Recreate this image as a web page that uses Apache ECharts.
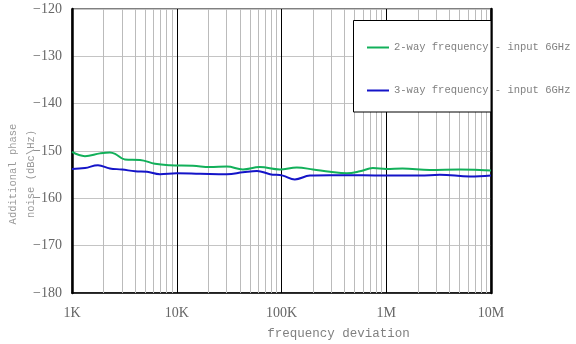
<!DOCTYPE html>
<html>
<head>
<meta charset="utf-8">
<script src="https://cdn.jsdelivr.net/npm/echarts@6/dist/echarts.min.js"></script>
<style>
  html, body { margin: 0; padding: 0; background: #fff; }
  #phaseChart { width: 576px; height: 344px; }
</style>
</head>
<body>
<div id="phaseChart"></div>
<script>
// frequency offsets (Hz) and additional phase noise (dBc/Hz)
const greenFreq = [1000, 1330, 1850, 2300, 2580, 3200, 4460, 6200, 8600, 14300, 20700, 30100, 42800, 62000, 96500, 140000, 200000, 290000, 420000, 560000, 745000, 1000000, 1430000, 2600000, 5000000, 7800000, 10000000];
const greenVal  = [-150.2, -151.1, -150.5, -150.3, -150.6, -151.8, -151.9, -152.7, -153.0, -153.1, -153.4, -153.3, -153.9, -153.4, -153.9, -153.5, -153.9, -154.4, -154.7, -154.3, -153.6, -153.8, -153.7, -154.0, -153.9, -154.0, -154.1];

const blueFreq = [1000, 1330, 1770, 2300, 3000, 4000, 5200, 6900, 10000, 16700, 30100, 42800, 58400, 77700, 103000, 134000, 187000, 290000, 600000, 1000000, 2100000, 3250000, 6300000, 10000000];
const blueVal  = [-153.8, -153.6, -153.0, -153.7, -153.9, -154.3, -154.4, -154.9, -154.7, -154.8, -154.9, -154.5, -154.2, -154.9, -155.2, -156.0, -155.2, -155.1, -155.1, -155.2, -155.2, -155.0, -155.4, -155.2];

const seriesNames = ['2-way frequency - input 6GHz', '3-way frequency - input 6GHz'];
const xTickLabels = {1000: '1K', 10000: '10K', 100000: '100K', 1000000: '1M', 10000000: '10M'};
const decades = [1000, 10000, 100000, 1000000];
const minorSteps = [2, 3, 4, 5, 6, 7, 8, 9];

const zip = (xs, ys) => xs.map((x, i) => [x, ys[i]]);

// minor log grid lines, placed through the axis scale
const minorLines = [];
decades.forEach(d => minorSteps.forEach(m => minorLines.push({xAxis: d * m})));

let myChart = echarts.init(document.getElementById('phaseChart'));
let option = {
  animation: false,
  backgroundColor: '#fff',
  grid: {
    left: 72, right: 85, top: 9, bottom: 51,
    outerBoundsMode: 'none',
    show: true, borderColor: '#000', borderWidth: 1
  },
  legend: {
    orient: 'vertical',
    left: 362,
    top: 37,
    itemGap: 32,
    itemWidth: 22,
    itemHeight: 2,
    icon: 'rect',
    z: 10,
    textStyle: {fontFamily: 'Liberation Mono', fontSize: 10.5, color: '#808080'},
    data: seriesNames
  },
  graphic: [{
    type: 'rect',
    z: 5,
    shape: {x: 353.5, y: 20.5, width: 137.5, height: 91.5},
    style: {fill: '#fff', stroke: '#000', lineWidth: 1}
  }],
  xAxis: {
    type: 'log',
    logBase: 10,
    min: 1000,
    max: 10000000,
    name: 'frequency deviation',
    nameLocation: 'middle',
    nameGap: 34,
    nameMoveOverlap: false,
    nameTextStyle: {fontFamily: 'Liberation Mono', fontSize: 12.5, color: '#808080', padding: [0, 0, 0, 114]},
    axisLine: {lineStyle: {color: '#000', width: 1.5}},
    axisTick: {show: false},
    axisLabel: {
      margin: 13,
      fontFamily: 'Liberation Serif',
      fontSize: 14,
      color: '#666',
      formatter: v => xTickLabels[Math.round(v)] || ''
    },
    splitLine: {show: true, lineStyle: {color: '#000', width: 1}}
  },
  yAxis: [{
    type: 'value',
    min: -180,
    max: -120,
    interval: 10,
    name: 'Additional phase\nnoise (dBc\\Hz)',
    nameLocation: 'middle',
    nameRotate: 90,
    nameGap: 32,
    nameMoveOverlap: false,
    nameTextStyle: {fontFamily: 'Liberation Mono', fontSize: 10.5, color: '#999', lineHeight: 18, padding: [0, 46, 0, 0]},
    axisLine: {show: true, lineStyle: {color: '#000', width: 2.5}},
    axisTick: {show: false},
    axisLabel: {
      margin: 10,
      fontFamily: 'Liberation Serif',
      fontSize: 14,
      color: '#666',
      formatter: v => String(v).replace('-', '\u2212')
    },
    splitLine: {show: true, lineStyle: {color: '#c4c4c4', width: 1}}
  }, {
    type: 'value',
    position: 'right',
    min: -180,
    max: -120,
    interval: 10,
    axisLine: {show: true, lineStyle: {color: '#000', width: 2.5}},
    axisTick: {show: false},
    axisLabel: {show: false},
    splitLine: {show: false}
  }],
  series: [{
    name: seriesNames[0],
    type: 'line',
    smooth: 0.4,
    showSymbol: false,
    data: zip(greenFreq, greenVal),
    lineStyle: {color: '#12b05a', width: 2},
    itemStyle: {color: '#12b05a'},
    z: 3,
    markLine: {
      silent: true,
      symbol: 'none',
      label: {show: false},
      lineStyle: {color: '#bbb', width: 1, type: 'solid'},
      data: minorLines,
      z: 1
    }
  }, {
    name: seriesNames[1],
    type: 'line',
    smooth: 0.4,
    showSymbol: false,
    data: zip(blueFreq, blueVal),
    lineStyle: {color: '#1414c8', width: 2},
    itemStyle: {color: '#1414c8'},
    z: 3
  }]
};
myChart.setOption(option);
</script>
</body>
</html>
